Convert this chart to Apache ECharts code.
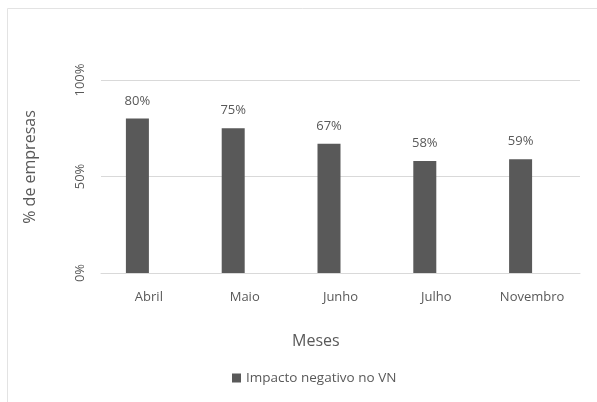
<!DOCTYPE html>
<html>
<head>
<meta charset="utf-8">
<script src="https://cdn.jsdelivr.net/npm/echarts@6/dist/echarts.min.js"></script>
<style>
  html, body { margin: 0; padding: 0; background: #fff; }
  #chart { width: 597px; height: 402px; }
</style>
</head>
<body>
<div id="chart"></div>
<script>
const months = ['Abril', 'Maio', 'Junho', 'Julho', 'Novembro'];
const negativeImpact = [80, 75, 67, 58, 59];
const emptySeries = [null, null, null, null, null];
const yTicks = [0, 50, 100];

const FONT = 'Open Sans';
const TEXT = '#595959';
const GRID = '#d9d9d9';

const chart = echarts.init(document.getElementById('chart'), null, { renderer: 'canvas' });

chart.setOption({
  animation: false,
  backgroundColor: '#fff',
  textStyle: { fontFamily: FONT, color: TEXT },
  grid: { left: 101, right: 17, top: 80, bottom: 129 },
  graphic: [
    {
      type: 'rect',
      shape: { x: 7.5, y: 8.5, width: 620, height: 420 },
      style: { fill: 'none', stroke: '#e3e3e3', lineWidth: 1 },
      silent: true
    },
    {
      // vertical axis title
      type: 'text',
      x: 30,
      y: 167,
      rotation: Math.PI / 2,
      style: {
        text: '% de empresas',
        fontFamily: FONT,
        fontSize: 16,
        fill: TEXT,
        align: 'center',
        verticalAlign: 'middle'
      }
    },
    {
      type: 'text',
      left: 292,
      top: 333,
      style: { text: 'Meses', fontFamily: FONT, fontSize: 16, fill: TEXT }
    }
  ],
  legend: {
    data: ['Impacto negativo no VN'],
    left: 232,
    top: 371,
    padding: 0,
    itemWidth: 9,
    itemHeight: 9,
    itemGap: 3,
    icon: 'rect',
    textStyle: { fontFamily: FONT, fontSize: 13.5, color: TEXT }
  },
  xAxis: {
    type: 'category',
    data: months,
    axisTick: { show: false },
    axisLine: { show: true, lineStyle: { color: GRID, width: 1 } },
    axisLabel: { fontFamily: FONT, fontSize: 13, color: TEXT, margin: 18 }
  },
  yAxis: {
    type: 'value',
    min: yTicks[0],
    max: yTicks[yTicks.length - 1],
    interval: 50,
    axisLine: { show: false },
    axisTick: { show: false },
    splitLine: { lineStyle: { color: GRID, width: 1 } },
    axisLabel: {
      rotate: 90,
      fontFamily: FONT,
      fontSize: 13,
      color: TEXT,
      margin: 14,
      formatter: v => v + '%'
    }
  },
  series: [
    {
      name: 'Impacto negativo no VN',
      type: 'bar',
      data: negativeImpact,
      barWidth: 23,
      barGap: '0%',
      itemStyle: { color: '#595959' },
      label: {
        show: true,
        position: 'top',
        distance: 11,
        fontFamily: FONT,
        fontSize: 13,
        color: TEXT,
        formatter: p => p.value + '%'
      }
    },
    {
      name: 'sem dados',
      type: 'bar',
      data: emptySeries,
      barWidth: 23,
      barGap: '0%',
      itemStyle: { color: '#a5a5a5' }
    }
  ]
});
</script>
</body>
</html>
